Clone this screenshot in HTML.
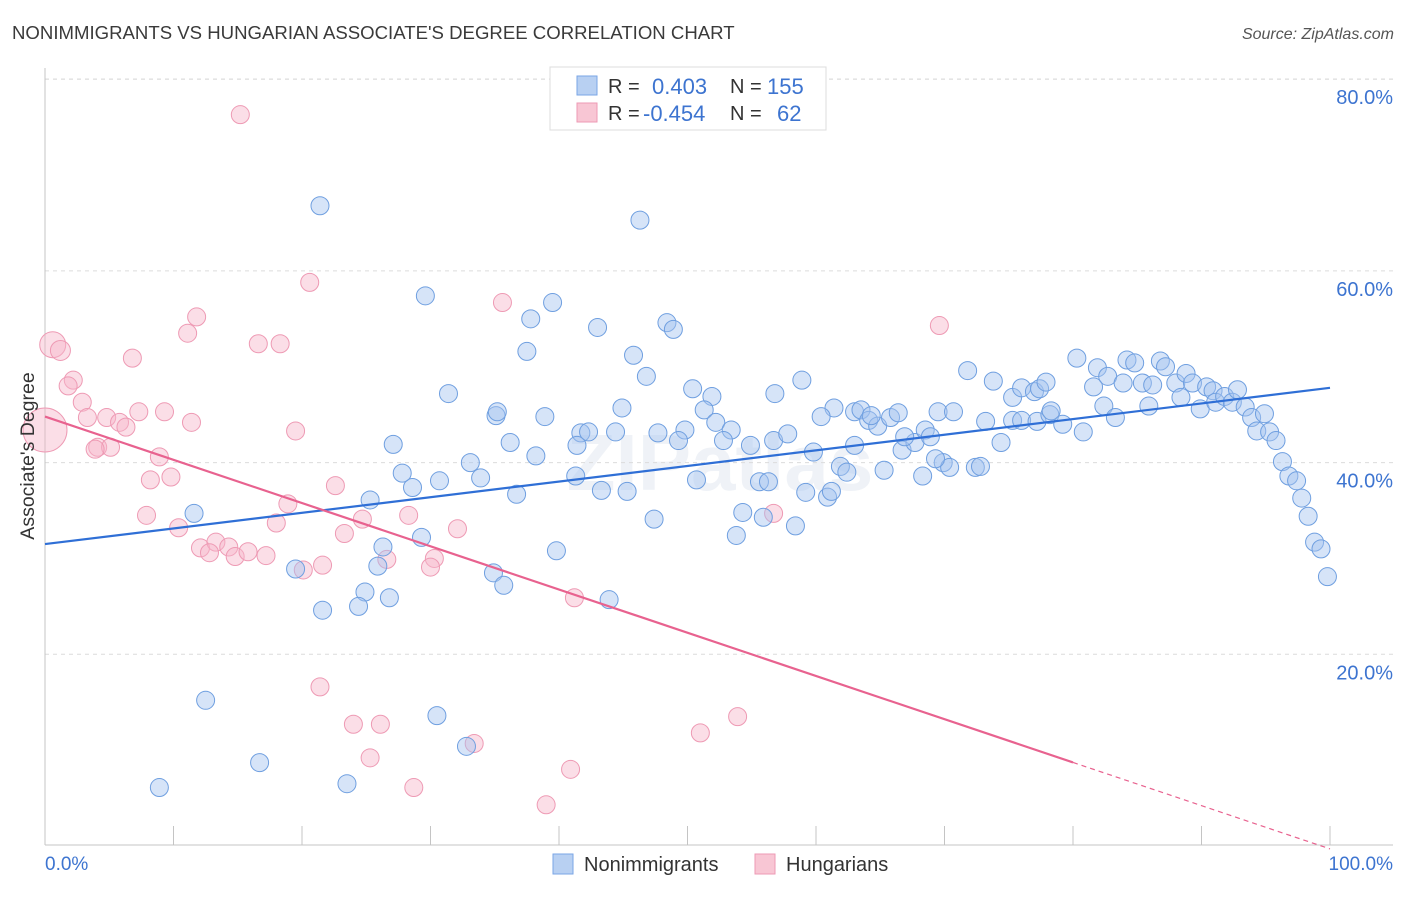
<!DOCTYPE html>
<html><head><meta charset="utf-8"><style>
body{margin:0;background:#fff;font-family:"Liberation Sans",sans-serif;}
svg text{font-family:"Liberation Sans",sans-serif;}
</style></head><body>
<svg id="chart" width="1406" height="892" xmlns="http://www.w3.org/2000/svg">
<text x="12" y="39" font-size="18.6" fill="#3a3a3a">NONIMMIGRANTS VS HUNGARIAN ASSOCIATE'S DEGREE CORRELATION CHART</text>
<text x="1394" y="39" font-size="16" fill="#555" font-style="italic" text-anchor="end">Source: ZipAtlas.com</text>
<text x="720" y="490" font-size="80" fill="#e6ebf2" text-anchor="middle" font-family="Liberation Serif" font-weight="bold" opacity="0.6">ZIPatlas</text>
<g id="grid"></g>
<g id="axes"></g>
<g id="pts-pink"></g>
<g id="pts-blue"></g>
<g id="lines"></g>
<text transform="translate(34,456) rotate(-90)" font-size="19.5" fill="#333" text-anchor="middle">Associate's Degree</text>
<g>
<rect x="550" y="67" width="276" height="63" fill="#fff" stroke="#ddd"/>
<rect x="577" y="76" width="20" height="19" fill="#b8d0f2" stroke="#7aa6e6"/>
<rect x="577" y="103" width="20" height="19" fill="#f8c6d4" stroke="#ee9ab4"/>
<text x="608" y="93" font-size="20" fill="#333">R = </text><text x="652" y="94" font-size="22" fill="#3d74d0">0.403</text>
<text x="730" y="93" font-size="20" fill="#333">N = </text><text x="767" y="94" font-size="22" fill="#3d74d0">155</text>
<text x="608" y="120" font-size="20" fill="#333">R = </text><text x="643" y="121" font-size="22" fill="#3d74d0">-0.454</text>
<text x="730" y="120" font-size="20" fill="#333">N = </text><text x="777" y="121" font-size="22" fill="#3d74d0">62</text>
</g>
<g>
<rect x="553" y="854" width="20" height="20" fill="#b8d0f2" stroke="#7aa6e6"/>
<text x="584" y="871" font-size="20" fill="#333">Nonimmigrants</text>
<rect x="755" y="854" width="20" height="20" fill="#f8c6d4" stroke="#ee9ab4"/>
<text x="786" y="871" font-size="20" fill="#333">Hungarians</text>
</g>
</svg>
<script>
const blueX=[21.4,46.3,29.6,39.5,37.8,43.0,48.4,48.9,37.5,45.8,46.8,31.4,50.4,51.9,56.8,58.9,44.9,38.9,35.1,51.3,52.2,47.7,49.8,53.4,49.3,52.8,54.9,56.7,57.8,59.8,61.9,62.4,65.3,66.7,67.7,68.5,69.5,70.7,71.8,73.8,75.3,76.0,77.0,77.4,77.9,75.3,74.4,73.2,76.0,77.2,78.2,79.2,78.3,80.8,80.3,81.6,81.9,82.7,83.9,82.4,83.3,84.2,84.8,85.4,86.2,85.9,86.8,87.2,88.0,88.8,88.4,89.3,89.9,90.4,90.9,91.1,91.8,92.4,92.8,93.4,93.9,94.3,94.9,95.3,95.8,96.3,96.8,97.4,97.8,98.3,98.8,99.3,99.8,63.0,63.5,64.1,64.8,65.8,66.4,64.3,61.4,60.4,63.0,66.9,68.9,69.9,70.4,69.3,68.3,72.4,72.8,59.2,60.9,61.2,55.6,56.3,54.3,55.9,58.4,53.8,50.7,45.3,43.3,47.4,41.3,41.7,41.4,42.3,44.4,36.7,36.2,38.2,35.2,33.1,33.9,30.7,28.6,27.8,27.1,25.3,26.3,29.3,25.9,24.9,24.4,26.8,19.5,21.6,11.6,12.5,8.9,16.7,23.5,30.5,32.8,43.9,39.8,34.9,35.7];
const blueY=[66.8,65.3,57.4,56.7,55.0,54.1,54.6,53.9,51.6,51.2,49.0,47.2,47.7,46.9,47.2,48.6,45.7,44.8,44.9,45.5,44.2,43.1,43.4,43.4,42.3,42.3,41.8,42.3,43.0,41.1,39.6,39.0,39.2,41.3,42.1,43.4,45.3,45.3,49.6,48.5,46.8,47.8,47.4,47.7,48.4,44.4,42.1,44.3,44.4,44.3,45.0,44.0,45.4,43.2,50.9,47.9,49.9,49.0,48.3,45.9,44.7,50.7,50.4,48.3,48.1,45.9,50.6,50.0,48.3,49.3,46.8,48.3,45.6,47.9,47.5,46.3,46.9,46.3,47.6,45.8,44.7,43.3,45.1,43.2,42.3,40.1,38.6,38.1,36.3,34.4,31.7,31.0,28.1,45.3,45.5,44.4,43.8,44.7,45.2,44.9,45.7,44.8,41.8,42.7,42.7,40.0,39.5,40.4,38.6,39.5,39.6,36.9,36.4,37.0,38.0,38.0,34.8,34.3,33.4,32.4,38.2,37.0,37.1,34.1,38.6,43.1,41.8,43.2,43.2,36.7,42.1,40.7,45.3,40.0,38.4,38.1,37.4,38.9,41.9,36.1,31.2,32.2,29.2,26.5,25.0,25.9,28.9,24.6,34.7,15.2,6.1,8.7,6.5,13.6,10.4,25.7,30.8,28.5,27.2];
const pinkX=[0,0.6,1.2,15.2,20.6,35.6,11.8,11.1,16.6,18.3,6.8,2.2,1.8,2.9,3.3,4.8,5.8,6.3,7.3,9.3,11.4,4.1,5.1,3.9,8.9,8.2,9.8,19.5,22.6,7.9,10.4,12.1,13.3,12.8,14.3,14.8,15.8,17.2,18.0,18.9,20.1,21.6,23.3,24.7,26.6,28.3,30.3,30.0,32.1,41.2,21.4,24.0,26.1,25.3,28.7,33.4,39.0,40.9,51.0,53.9,56.7,69.6];
const pinkY=[43.4,52.3,51.7,76.3,58.8,56.7,55.2,53.5,52.4,52.4,50.9,48.6,48.0,46.3,44.7,44.7,44.2,43.7,45.3,45.3,44.2,41.6,41.6,41.4,40.6,38.2,38.5,43.3,37.6,34.5,33.2,31.1,31.7,30.6,31.2,30.2,30.7,30.3,33.7,35.7,28.8,29.3,32.6,34.1,29.9,34.5,30.0,29.1,33.1,25.9,16.6,12.7,12.7,9.2,6.1,10.7,4.3,8.0,11.8,13.5,34.7,54.3];
const pinkSize=[22,13,10,9,9,9,9,9,9,9,9,9,9,9,9,9,9,9,9,9,9,9,9,9,9,9,9,9,9,9,9,9,9,9,9,9,9,9,9,9,9,9,9,9,9,9,9,9,9,9,9,9,9,9,9,9,9,9,9,9,9,9];
const yTicks=[20,40,60,80];
const yTickLabels=["20.0%","40.0%","60.0%","80.0%"];
const xTicks=[0,10,20,30,40,50,60,70,80,90,100];
const blueTrend=[31.5,47.8];
const pinkTrend=[44.8,-0.3];
const pinkSolidEnd=80;

const NS="http://www.w3.org/2000/svg";
const X=v=>45+v*12.85;
const Y=v=>846-v*9.585;
function mk(tag,attrs,parent){const e=document.createElementNS(NS,tag);for(const k in attrs)e.setAttribute(k,attrs[k]);parent.appendChild(e);return e;}
const grid=document.getElementById('grid'),axes=document.getElementById('axes');
yTicks.forEach((t,i)=>{
  const l=mk('line',{x1:45,x2:1393,y1:Y(t),y2:Y(t),stroke:'#dcdcdc','stroke-dasharray':'4,4'},grid);
  
  
  const tx=mk('text',{x:1393,y:Y(t)+25,'font-size':20,fill:'#3d74d0','text-anchor':'end'},axes);
  tx.textContent=yTickLabels[i];
  
  
});
const topLine=mk('line',{x1:45,x2:1393,y1:79,y2:79,stroke:'#dcdcdc','stroke-dasharray':'4,4'},grid);


const la=mk('line',{x1:45,x2:45,y1:68,y2:845,stroke:'#c4c4c4'},axes);


const ba=mk('line',{x1:45,x2:1393,y1:845,y2:845,stroke:'#c4c4c4'},axes);


xTicks.forEach(t=>{
  const tk=mk('line',{x1:X(t),x2:X(t),y1:826,y2:845,stroke:'#c4c4c4'},axes);
  
  
});
const xl0=mk('text',{x:45,y:870,'font-size':19,fill:'#3d74d0','text-anchor':'start'},axes);xl0.textContent='0.0%';


const xl1=mk('text',{x:1393,y:870,'font-size':19,fill:'#3d74d0','text-anchor':'end'},axes);xl1.textContent='100.0%';



const gp=document.getElementById('pts-pink');
pinkX.forEach((x,i)=>{
  const c=mk('circle',{cx:X(x),cy:Y(pinkY[i]),r:pinkSize[i],fill:'rgba(246,182,202,0.45)',stroke:'#ee9ab4','stroke-width':1},gp);
  
  
});
const gb=document.getElementById('pts-blue');
blueX.forEach((x,i)=>{
  const c=mk('circle',{cx:X(x),cy:Y(blueY[i]),r:9,fill:'rgba(164,196,240,0.45)',stroke:'#6f9fe0','stroke-width':1},gb);
  
  
});
const gl=document.getElementById('lines');
const bl=mk('line',{x1:X(0),y1:Y(blueTrend[0]),x2:X(100),y2:Y(blueTrend[1]),stroke:'#2f6fd6','stroke-width':2.2},gl);


const pv=x=>pinkTrend[0]+(pinkTrend[1]-pinkTrend[0])*x/100;
const pl=mk('line',{x1:X(0),y1:Y(pv(0)),x2:X(pinkSolidEnd),y2:Y(pv(pinkSolidEnd)),stroke:'#e8628f','stroke-width':2.2},gl);


const pd=mk('line',{x1:X(pinkSolidEnd),y1:Y(pv(pinkSolidEnd)),x2:X(100),y2:Y(pv(100)),stroke:'#e8628f','stroke-width':1.2,'stroke-dasharray':'5,4'},gl);


</script>
</body></html>
